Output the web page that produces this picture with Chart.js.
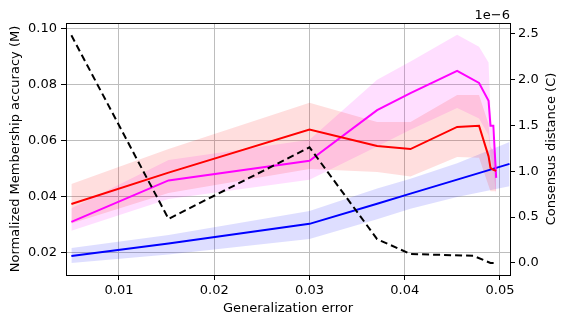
<!DOCTYPE html>
<html>
<head>
<meta charset="utf-8">
<script src="https://cdn.jsdelivr.net/npm/chart.js@4.4.1/dist/chart.umd.min.js"></script>
<style>
  body { margin: 0; background: #fff; }
  #wrap { width: 568px; height: 325px; }
</style>
</head>
<body>
<div id="wrap"><canvas id="genChart" width="568" height="325"></canvas></div>
<script>
// generalization error (x) for the red / magenta runs
const errX = [0.005, 0.0152, 0.030, 0.0371, 0.0406, 0.0455, 0.0478, 0.0488, 0.0490, 0.0493, 0.0496];
const redMean  = [0.0375, 0.0487, 0.0641, 0.0582, 0.0571, 0.0650, 0.0654, 0.0545, 0.0504, 0.0497, 0.0493];
const redUpper = [0.0446, 0.0571, 0.0736, 0.0668, 0.0668, 0.0764, 0.0764, 0.0660, 0.0580, 0.0565, 0.0555];
const redLower = [0.0305, 0.0414, 0.0500, 0.0489, 0.0473, 0.0543, 0.0540, 0.0440, 0.0420, 0.0420, 0.0420];
const magMean  = [0.0311, 0.0459, 0.0529, 0.0710, 0.0771, 0.0850, 0.0807, 0.0743, 0.0654, 0.0654, 0.0468];
const magUpper = [0.0360, 0.0532, 0.0604, 0.0818, 0.0884, 0.0979, 0.0936, 0.0880, 0.0710, 0.0600, 0.0500];
const magLower = [0.0279, 0.0393, 0.0461, 0.0580, 0.0640, 0.0718, 0.0680, 0.0620, 0.0550, 0.0500, 0.0400];

// blue run
const blueX     = [0.005, 0.0152, 0.030, 0.0371, 0.0406, 0.0455, 0.0510];
const blueMean  = [0.0189, 0.0234, 0.0304, 0.0376, 0.0412, 0.0462, 0.0518];
const blueUpper = [0.0218, 0.0264, 0.0350, 0.0430, 0.0465, 0.0520, 0.0596];
const blueLower = [0.0164, 0.0195, 0.0250, 0.0320, 0.0358, 0.0400, 0.0438];

// consensus distance (x 1e-6), right axis
const consX = [0.005, 0.0152, 0.030, 0.0371, 0.0406, 0.0472, 0.0490, 0.0496];
const consensus = [2.48, 0.48, 1.26, 0.26, 0.098, 0.078, 0.0, 0.0];

const xTicks = [0.01, 0.02, 0.03, 0.04, 0.05];
const yTicks = [0.02, 0.04, 0.06, 0.08, 0.10];
const y1Ticks = [0.0, 0.5, 1.0, 1.5, 2.0, 2.5];

const pts = (xs, ys) => xs.map((x, i) => ({ x: x, y: ys[i] }));

function line(data, color, order, axis) {
    return {
        data: data, borderColor: color, borderWidth: 2, pointRadius: 0,
        tension: 0, fill: false, order: order, yAxisID: axis || 'y'
    };
}
function band(data, color, fill, order) {
    return {
        data: data, borderColor: 'rgba(0,0,0,0)', backgroundColor: color,
        borderWidth: 1, pointRadius: 0, tension: 0, fill: fill, order: order, yAxisID: 'y'
    };
}

const grey = '#bdbdbd';
const font = { family: 'DejaVu Sans', size: 13 };

const frame = {
    id: 'frame',
    afterDraw(chart) {
        const ctx = chart.ctx, a = chart.chartArea;
        ctx.save();
        ctx.strokeStyle = '#000';
        ctx.lineWidth = 1;
        ctx.strokeRect(a.left + 0.5, a.top + 0.5, a.right - a.left, a.bottom - a.top);
        ctx.fillStyle = '#000';
        ctx.font = '13px "DejaVu Sans"';
        ctx.textAlign = 'right';
        ctx.textBaseline = 'alphabetic';
        ctx.fillText('1e\u22126', a.right, 19);
        ctx.translate(552, (a.top + a.bottom) / 2);
        ctx.rotate(-Math.PI / 2);
        ctx.textAlign = 'center';
        ctx.textBaseline = 'middle';
        ctx.fillText('Consensus distance (C)', 0, 0);
        ctx.restore();
    }
};

const ctx = document.getElementById('genChart').getContext('2d');
const chart = new Chart(ctx, {
    type: 'line',
    data: {
        datasets: [
            line(pts(consX, consensus), '#000', 0, 'y1'),
            line(pts(errX, redMean), '#ff0000', 1),
            line(pts(errX, magMean), '#ff00ff', 2),
            line(pts(blueX, blueMean), '#0000ff', 3),
            band(pts(errX, redUpper), 'rgba(255,0,0,0.13)', '+1', 5),
            band(pts(errX, redLower), 'rgba(0,0,0,0)', false, 5),
            band(pts(errX, magUpper), 'rgba(255,0,255,0.13)', '+1', 6),
            band(pts(errX, magLower), 'rgba(0,0,0,0)', false, 6),
            band(pts(blueX, blueUpper), 'rgba(0,0,255,0.13)', '+1', 7),
            band(pts(blueX, blueLower), 'rgba(0,0,0,0)', false, 7)
        ].map(d => (d.borderDash = d.borderColor === '#000' ? [7, 4] : [], d))
    },
    options: {
        responsive: false,
        animation: false,
        layout: { padding: { top: 23, left: 0, right: 0, bottom: 0 } },
        plugins: { legend: { display: false }, tooltip: { enabled: false } },
        scales: {
            x: {
                type: 'linear', min: 0.004436, max: 0.05105,
                afterBuildTicks: s => { s.ticks = xTicks.map(v => ({ value: v })); },
                afterFit: s => { s.height = 50; },
                ticks: { color: '#000', font: font, padding: 3, autoSkip: false, maxRotation: 0,
                         callback: v => v.toFixed(2) },
                grid: { color: grey, lineWidth: 1, tickColor: '#000', tickLength: 5 },
                border: { display: false },
                title: { display: true, text: 'Generalization error', color: '#000', font: font,
                         padding: { top: 2, bottom: 9 } }
            },
            y: {
                type: 'linear', position: 'left', min: 0.01214, max: 0.1021,
                afterBuildTicks: s => { s.ticks = yTicks.map(v => ({ value: v })); },
                afterFit: s => { s.width = 66; },
                ticks: { color: '#000', font: font, padding: 4, autoSkip: false,
                         callback: v => v.toFixed(2) },
                grid: { color: grey, lineWidth: 1, tickColor: '#000', tickLength: 5 },
                border: { display: false },
                title: { display: true, text: 'Normalized Membership accuracy (M)', color: '#000', font: font,
                         padding: { top: 8, bottom: 2 } }
            },
            y1: {
                type: 'linear', position: 'right', min: -0.131, max: 2.614,
                afterBuildTicks: s => { s.ticks = y1Ticks.map(v => ({ value: v })); },
                afterFit: s => { s.width = 58; },
                ticks: { color: '#000', font: font, padding: 3, autoSkip: false,
                         callback: v => v.toFixed(1) },
                grid: { drawOnChartArea: false, tickColor: '#000', tickLength: 5 },
                border: { display: false }
            }
        }
    },
    plugins: [frame]
});
</script>
</body>
</html>
